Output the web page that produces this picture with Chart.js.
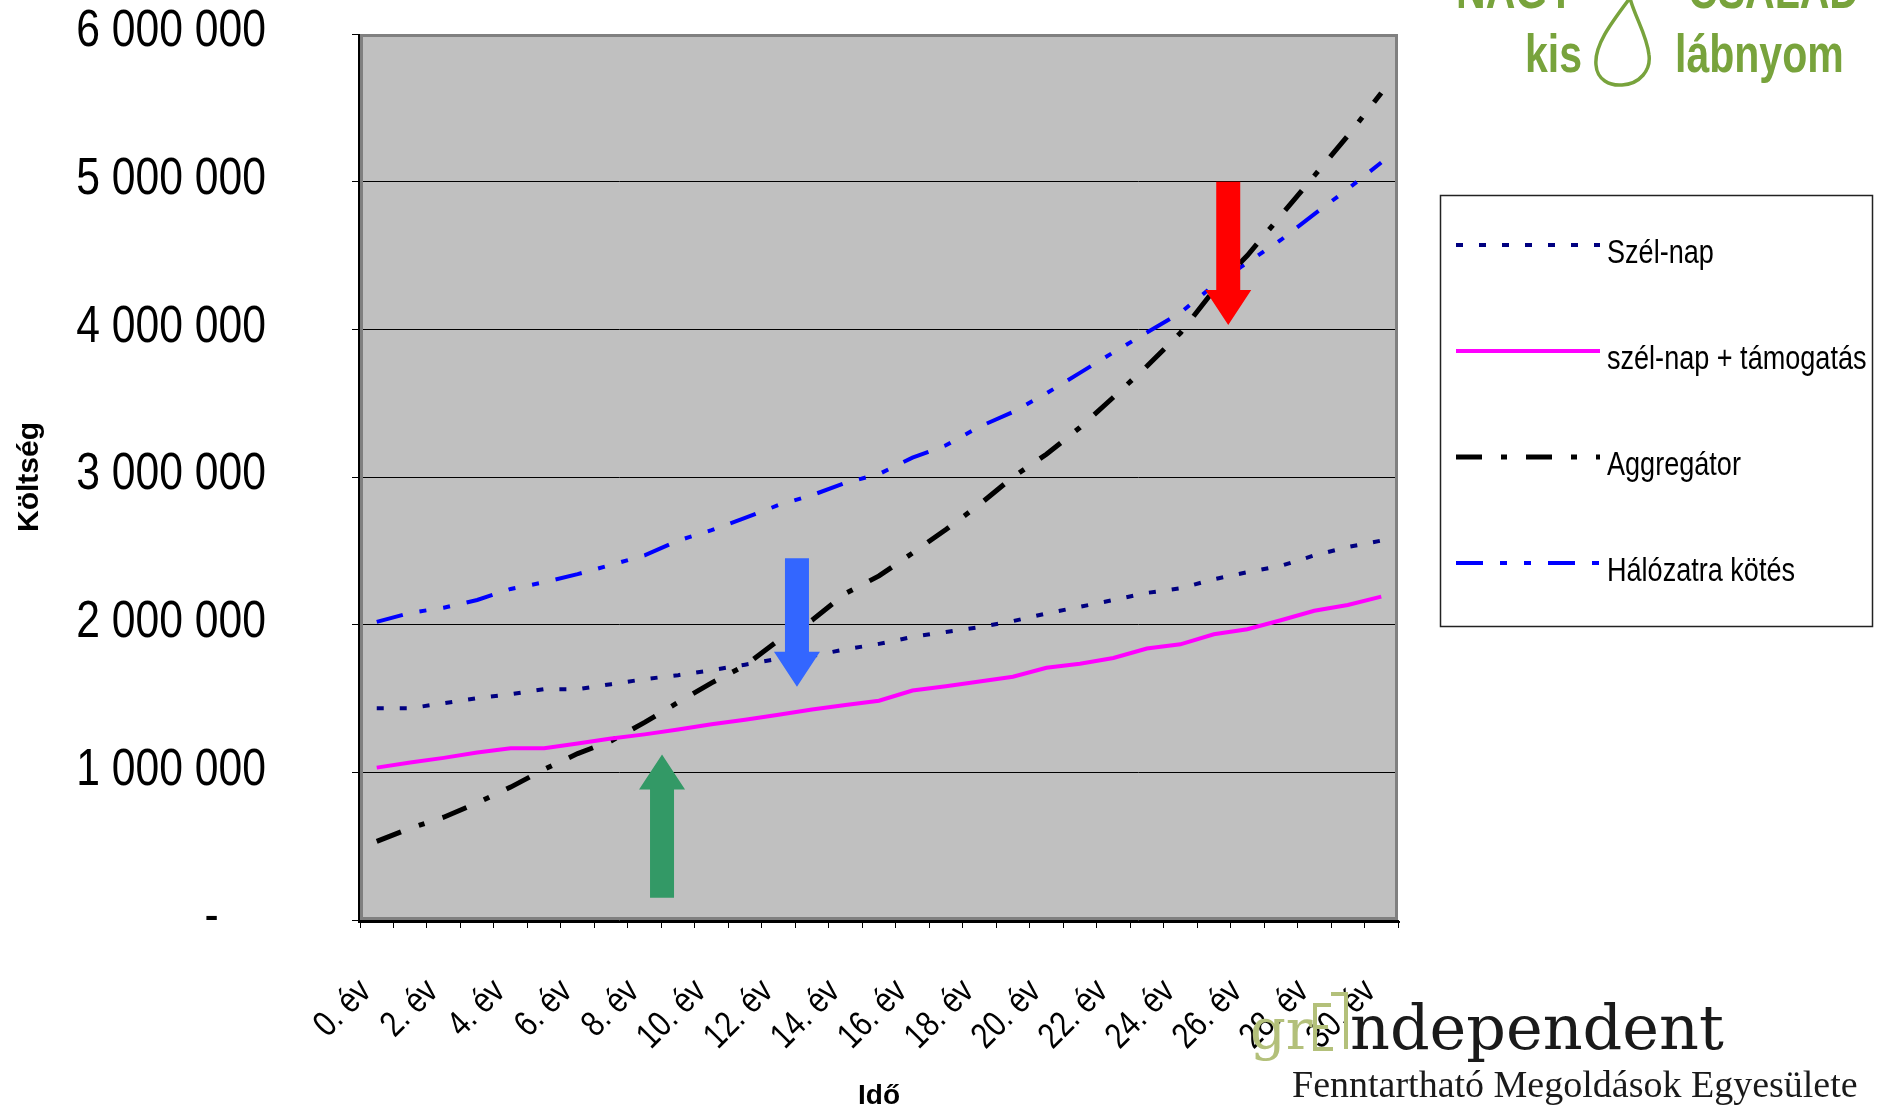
<!DOCTYPE html>
<html lang="hu">
<head>
<meta charset="utf-8">
<title>Költség – Idő</title>
<script src="https://cdn.jsdelivr.net/npm/chart.js@4.4.1/dist/chart.umd.min.js"></script>
<style>
  html, body { margin: 0; padding: 0; background: #fff; }
  #wrap { width: 1890px; height: 1111px; position: relative; }
</style>
</head>
<body>
<div id="wrap"><canvas id="costChart"></canvas></div>
<script>
// categories (years) and y tick labels
const categories = ['0. év', '1. év', '2. év', '3. év', '4. év', '5. év', '6. év', '7. év', '8. év', '9. év',
  '10. év', '11. év', '12. év', '13. év', '14. év', '15. év', '16. év', '17. év', '18. év', '19. év',
  '20. év', '21. év', '22. év', '23. év', '24. év', '25. év', '26. év', '27. év', '28. év', '29. év', '30. év'];
const yTickLabels = ['-    ', '1 000 000', '2 000 000', '3 000 000', '4 000 000', '5 000 000', '6 000 000'];

// series values (Ft)
const szelNap = [1434000, 1434000, 1468000, 1502000, 1529000, 1563000, 1563000, 1597000, 1631000, 1658000,
  1692000, 1729000, 1770000, 1788000, 1833000, 1870000, 1917000, 1951000, 1983000, 2024000,
  2076000, 2121000, 2167000, 2215000, 2246000, 2308000, 2355000, 2398000, 2469000, 2526000, 2569000];
const szelNapTamogatas = [1032000, 1066000, 1098000, 1134000, 1163000, 1163000, 1195000, 1229000, 1257000, 1290000,
  1325000, 1356000, 1390000, 1425000, 1456000, 1485000, 1554000, 1583000, 1615000, 1647000,
  1708000, 1736000, 1774000, 1838000, 1867000, 1935000, 1969000, 2030000, 2094000, 2133000, 2190000];
const aggregator = [532000, 621000, 696000, 793000, 900000, 1020000, 1127000, 1213000, 1338000, 1474000,
  1606000, 1724000, 1894000, 2030000, 2212000, 2330000, 2485000, 2644000, 2814000, 3000000,
  3154000, 3335000, 3540000, 3750000, 3975000, 4265000, 4500000, 4770000, 5040000, 5310000, 5600000];
const halozatraKotes = [2019000, 2080000, 2115000, 2167000, 2242000, 2287000, 2342000, 2405000, 2469000, 2569000,
  2640000, 2723000, 2810000, 2877000, 2960000, 3020000, 3131000, 3215000, 3340000, 3440000,
  3566000, 3705000, 3844000, 3978000, 4112000, 4298000, 4452000, 4605000, 4780000, 4950000, 5130000];

// arrows (category index, start value, tip value)
const arrowX = [25.43, 12.55, 8.52];
const arrowFrom = [5000000, 2450000, 150000];
const arrowTo = [4030000, 1580000, 1120000];
const arrowColors = ['#ff0000', '#3366ff', '#339966'];

const SANS = "'Liberation Sans', Arial, sans-serif";
Chart.defaults.font.family = SANS;
Chart.defaults.color = '#000';

// no narrow font installed: squeeze Liberation Sans like Arial Narrow
function narrowText(ctx, text, x, y, size, opts = {}) {
  ctx.save();
  ctx.translate(x, y);
  if (opts.rotate) ctx.rotate(opts.rotate);
  ctx.scale(opts.squeeze || 0.82, 1);
  ctx.font = (opts.bold ? 'bold ' : '') + size + 'px ' + SANS;
  ctx.textAlign = opts.align || 'left';
  ctx.textBaseline = opts.baseline || 'alphabetic';
  ctx.fillStyle = opts.color || '#000';
  ctx.fillText(text, 0, 0);
  ctx.restore();
}

// grey plot area with frame and black axes
const plotFrame = {
  id: 'plotFrame',
  beforeDraw(chart) {
    const {ctx, chartArea: a} = chart;
    ctx.save();
    ctx.fillStyle = '#c0c0c0';
    ctx.fillRect(a.left, a.top, a.width, a.height);
    ctx.restore();
  },
  beforeDatasetsDraw(chart) {
    const {ctx, chartArea: a} = chart;
    ctx.save();
    ctx.strokeStyle = '#808080';
    ctx.lineWidth = 3;
    ctx.strokeRect(a.left + 1.5, a.top + 1.5, a.width - 3, a.height - 3);
    ctx.strokeStyle = '#000';
    ctx.lineWidth = 2;
    ctx.beginPath();
    ctx.moveTo(a.left - 1, a.top);
    ctx.lineTo(a.left - 1, a.bottom + 2);
    ctx.lineTo(a.right + 2, a.bottom + 2);
    ctx.stroke();
    ctx.restore();
  }
};

// tick labels in narrow lettering
const narrowTicks = {
  id: 'narrowTicks',
  afterDraw(chart) {
    const {ctx, chartArea: a, scales: {x, y}} = chart;
    y.ticks.forEach((t) => {
      const label = yTickLabels[Math.round(t.value / 1000000)];
      narrowText(ctx, label, a.left - 94, y.getPixelForValue(t.value) - 2, 52,
        {align: 'right', baseline: 'middle'});
    });
    x.ticks.forEach((t, i) => {
      if (i % 2 !== 0) return;
      narrowText(ctx, categories[i], x.getPixelForTick(i) - 11, a.bottom + 66, 36,
        {align: 'right', baseline: 'middle', rotate: -Math.PI / 4});
    });
  }
};

const arrowsPlugin = {
  id: 'arrows',
  afterDatasetsDraw(chart) {
    const {ctx, scales: {x, y}} = chart;
    ctx.save();
    arrowX.forEach((v, i) => {
      const px = x.getPixelForValue(v);
      const y0 = y.getPixelForValue(arrowFrom[i]);
      const y1 = y.getPixelForValue(arrowTo[i]);
      const dir = Math.sign(y1 - y0);
      const head = 35, shaft = 12, half = 23;
      const yb = y1 - dir * head;
      ctx.beginPath();
      ctx.moveTo(px - shaft, y0);
      ctx.lineTo(px + shaft, y0);
      ctx.lineTo(px + shaft, yb);
      ctx.lineTo(px + half, yb);
      ctx.lineTo(px, y1);
      ctx.lineTo(px - half, yb);
      ctx.lineTo(px - shaft, yb);
      ctx.closePath();
      ctx.fillStyle = arrowColors[i];
      ctx.fill();
    });
    ctx.restore();
  }
};

// boxed legend to the right of the plot
const boxLegend = {
  id: 'boxLegend',
  afterDraw(chart) {
    const {ctx} = chart;
    ctx.save();
    ctx.strokeStyle = '#222';
    ctx.lineWidth = 1.5;
    ctx.strokeRect(1440.5, 195.5, 432, 431);
    chart.data.datasets.forEach((ds, i) => {
      const ly = 245 + i * 106;
      ctx.strokeStyle = ds.borderColor;
      ctx.lineWidth = ds.borderWidth;
      ctx.setLineDash(ds.borderDash || []);
      ctx.beginPath();
      ctx.moveTo(1456, ly);
      ctx.lineTo(1600, ly);
      ctx.stroke();
      ctx.setLineDash([]);
      narrowText(ctx, ds.label, 1607, ly + 18, 33);
    });
    ctx.restore();
  }
};

// logos: "NAGY CSALÁD kis lábnyom" and "grEEndependent"
const logos = {
  id: 'logos',
  afterDraw(chart) {
    const {ctx} = chart;
    const green = '#78a33c';
    const logoFont = {bold: true, color: green, squeeze: 0.76};
    narrowText(ctx, 'NAGY', 1456, 8, 54, logoFont);
    narrowText(ctx, 'CSALÁD', 1688, 8, 54, logoFont);
    narrowText(ctx, 'kis', 1525, 72, 54, logoFont);
    narrowText(ctx, 'lábnyom', 1675, 72, 54, logoFont);
    ctx.save();
    ctx.strokeStyle = green;
    ctx.lineWidth = 3.5;
    ctx.beginPath();
    ctx.moveTo(1630, -2);
    ctx.bezierCurveTo(1612, 22, 1594, 45, 1596, 65);
    ctx.bezierCurveTo(1597, 80, 1610, 86, 1622, 85);
    ctx.bezierCurveTo(1640, 84, 1651, 70, 1649, 55);
    ctx.bezierCurveTo(1647, 35, 1634, 15, 1630, -2);
    ctx.stroke();

    ctx.fillStyle = '#b3c07a';
    ctx.font = '56px "DejaVu Serif", serif';
    ctx.textBaseline = 'alphabetic';
    ctx.fillText('gr', 1250, 1049);
    ctx.strokeStyle = '#b3c07a';
    ctx.lineWidth = 4;
    ctx.beginPath();
    ctx.moveTo(1331, 1005); ctx.lineTo(1315, 1005); ctx.lineTo(1315, 1049); ctx.lineTo(1333, 1049);
    ctx.moveTo(1315, 1027); ctx.lineTo(1328, 1027);
    ctx.moveTo(1331, 994); ctx.lineTo(1346, 994); ctx.lineTo(1346, 1049);
    ctx.stroke();
    ctx.fillStyle = '#1a1a1a';
    ctx.font = '62px "DejaVu Serif", serif';
    ctx.fillText('ndependent', 1350, 1049);
    ctx.font = '38px "Liberation Serif", serif';
    ctx.fillText('Fenntartható Megoldások Egyesülete', 1292, 1097);
    ctx.restore();
  }
};

const ctx = document.getElementById('costChart').getContext('2d');
const costChart = new Chart(ctx, {
  type: 'line',
  data: {
    labels: categories,
    datasets: [{
      label: 'Szél-nap',
      data: szelNap,
      borderColor: '#000080',
      borderWidth: 4,
      borderDash: [7, 16],
    }, {
      label: 'szél-nap + támogatás',
      data: szelNapTamogatas,
      borderColor: '#ff00ff',
      borderWidth: 4,
    }, {
      label: 'Aggregátor',
      data: aggregator,
      borderColor: '#000000',
      borderWidth: 5,
      borderDash: [26, 19, 6, 19],
    }, {
      label: 'Hálózatra kötés',
      data: halozatraKotes,
      borderColor: '#0000ff',
      borderWidth: 4,
      borderDash: [27, 17, 7, 17, 7, 17],
    }]
  },
  options: {
    responsive: true,
    maintainAspectRatio: false,
    animation: false,
    layout: { padding: { top: 34, right: 492, left: 0, bottom: 0 } },
    elements: {
      point: { radius: 0, hoverRadius: 0 },
      line: { tension: 0, fill: false, borderCapStyle: 'butt' }
    },
    plugins: {
      legend: { display: false },
      tooltip: { enabled: false }
    },
    scales: {
      x: {
        offset: true,
        grid: { offset: true, drawOnChartArea: false, drawTicks: true, tickLength: 8, color: '#000' },
        border: { display: false },
        ticks: { display: false, autoSkip: false },
        title: {
          display: true,
          text: 'Idő',
          font: { size: 28, weight: 'bold', lineHeight: 1 },
          padding: { top: 0, bottom: 1 }
        },
        afterFit(scale) { scale.height = 191; }
      },
      y: {
        min: 0,
        max: 6000000,
        grid: { color: '#000', lineWidth: 1, tickLength: 8 },
        border: { display: false },
        ticks: { display: false, stepSize: 1000000 },
        title: {
          display: true,
          text: 'Költség',
          font: { size: 30, weight: 'bold', lineHeight: 1 },
          padding: { top: 15, bottom: 0 }
        },
        afterFit(scale) { scale.width = 360; }
      }
    }
  },
  plugins: [plotFrame, arrowsPlugin, narrowTicks, boxLegend, logos]
});
</script>
</body>
</html>
